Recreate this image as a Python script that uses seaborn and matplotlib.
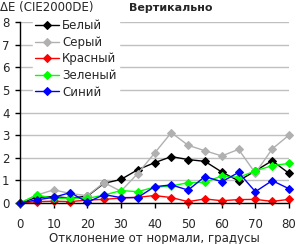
import numpy as np
import pandas as pd
import seaborn as sns
from matplotlib import pyplot as plt

# Angle from the normal, degrees
angles = np.arange(0, 85, 5)

# Delta E per colour
white = [0, 0.25, 0.28, 0.22, 0.30, 0.87, 1.04, 1.47, 1.78, 2.05, 1.92, 1.84, 1.37, 0.98, 1.42, 1.87, 1.31]
gray = [0, 0.35, 0.58, 0.42, 0.32, 0.90, 0.52, 1.30, 2.20, 3.11, 2.55, 2.31, 2.08, 2.37, 1.32, 2.39, 3.00]
red = [0, 0.06, 0.08, 0.06, 0.13, 0.16, 0.22, 0.25, 0.33, 0.24, 0.06, 0.18, 0.10, 0.15, 0.16, 0.07, 0.16]
green = [0, 0.36, 0.20, 0.22, 0.20, 0.35, 0.55, 0.50, 0.70, 0.75, 0.90, 0.91, 1.20, 1.13, 1.42, 1.65, 1.75]
blue = [0, 0.14, 0.25, 0.46, 0.03, 0.37, 0.24, 0.24, 0.72, 0.80, 0.57, 1.17, 0.94, 1.35, 0.50, 0.99, 0.63]

names = ['Белый', 'Серый', 'Красный', 'Зеленый', 'Синий']
series = [white, gray, red, green, blue]
colors = ['#000000', '#b0b0b0', '#ff0000', '#00ff00', '#0000ff']

sns.set_style('white')
plt.rcParams['font.family'] = ['DejaVu Sans']

fig = plt.figure(figsize=(2.96, 2.44), dpi=100)
ax = fig.add_axes([20/296, 1-203/244, 269/296, 181/244])

for name, vals, c in zip(names, series, colors):
    sns.lineplot(x=angles, y=vals, ax=ax, color=c, label=name, linewidth=1,
                 marker='D', markersize=4, markeredgecolor=c, clip_on=False)

ax.set_xlim(0, 80)
ax.set_ylim(0, 8)
ax.set_xticks(np.arange(0, 81, 10))
ax.set_yticks(np.arange(0, 9, 1))
ax.tick_params(labelsize=8.5, length=3.6, width=1, color='black', direction='out',
               bottom=True, left=True)
ax.tick_params(axis='x', pad=7)
ax.tick_params(axis='y', pad=4)
ax.yaxis.grid(True, color='#c0c0c0', linewidth=1)
ax.xaxis.grid(False)
sns.despine(ax=ax)
for s in ['left', 'bottom']:
    ax.spines[s].set_color('black')
    ax.spines[s].set_linewidth(1)
ax.set_xlabel('Отклонение от нормали, градусы', fontsize=8.5, labelpad=1)
ax.set_ylabel('')

leg = ax.legend(loc='upper left', bbox_to_anchor=(0.025, 1.06), fontsize=8.5, frameon=True,
                handlelength=2.0, handletextpad=0.3, labelspacing=0.3, borderpad=0.2,
                facecolor='white', edgecolor='white', framealpha=1)

fig.text(0, 1-8/244, 'ΔE (CIE2000DE)', fontsize=8.5, va='center', ha='left')
fig.text(171/296, 1-8/244, 'Вертикально', fontsize=8, fontweight='bold', va='center', ha='center')

plt.savefig('out.png', dpi=100)
